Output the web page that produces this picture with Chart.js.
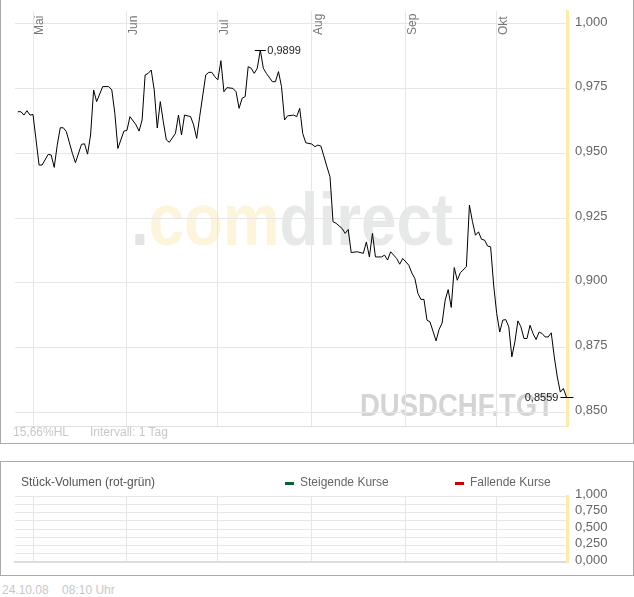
<!DOCTYPE html>
<html>
<head>
<meta charset="utf-8">
<script src="https://cdn.jsdelivr.net/npm/chart.js@4.4.0/dist/chart.umd.min.js"></script>
<style>
  body { margin: 0; background: #fff; font-family: Arial, "Liberation Sans", sans-serif; }
  .panel { position: absolute; left: 0; width: 632px; border: 1px solid #aaa; }
  canvas { position: absolute; left: 0; }
  .txt { position: absolute; font-size: 12px; white-space: nowrap; line-height: 14px; }
  .dash { position: absolute; width: 9px; height: 3px; }
</style>
</head>
<body>

<div class="panel" style="top:-1px; height:443px;"></div>
<canvas id="priceChart" width="634" height="444" style="top:0;"></canvas>
<div class="txt" style="left:13px; top:425px; color:#c8c8c8;">15,66%HL</div>
<div class="txt" style="left:90px; top:425px; color:#c8c8c8;">Intervall: 1 Tag</div>

<div class="panel" style="top:461px; height:113px;"></div>
<canvas id="volumeChart" width="634" height="112" style="top:462px;"></canvas>
<div class="txt" style="left:21px; top:475px; color:#555;">Stück-Volumen (rot-grün)</div>
<div class="dash" style="left:285px; top:482px; background:#006633;"></div>
<div class="txt" style="left:300px; top:475px; color:#666;">Steigende Kurse</div>
<div class="dash" style="left:455px; top:482px; background:#cc0000;"></div>
<div class="txt" style="left:470px; top:475px; color:#666;">Fallende Kurse</div>

<div class="txt" style="left:2px; top:583px; color:#c8c8c8;">24.10.08&nbsp;&nbsp;&nbsp;&nbsp;08:10 Uhr</div>

<script>
// days counted from 1 May 2008
const monthLabels = ['Mai', 'Jun', 'Jul', 'Aug', 'Sep', 'Okt'];
const monthStartDays = [0, 31, 61, 92, 123, 153];

const dayOffsets = [
  -5, -4, -3, -2, -1, 0, 2, 3, 5, 6, 7, 8, 9, 10, 11, 13, 14, 16, 17, 18, 19, 20, 21, 23, 25, 26, 27, 28, 30,
  31, 32, 34, 35, 36, 37, 38, 39, 40, 41, 42, 43, 44, 45, 47, 48, 49, 50, 52, 53, 54, 55, 57, 58, 59, 60,
  61, 62, 63, 64, 66, 67, 68, 69, 70, 71, 72, 73, 74, 75, 76, 77, 79, 80, 81, 82, 83, 84, 86, 87, 88, 89, 90,
  92, 93, 94, 95, 97, 98, 99, 100, 102, 103, 104, 105, 107, 109, 110, 111, 112, 113, 115, 116, 117, 118, 120, 121, 122,
  124, 125, 126, 127, 128, 129, 130, 131, 133, 134, 135, 136, 137, 138, 139, 140, 141, 143, 144, 145, 146, 147, 148, 149,
  150, 151, 152, 153, 154, 155, 156, 157, 158, 159, 160, 161, 162, 163, 164, 165, 166, 167, 168, 169, 170, 171, 172,
  173, 174, 175, 176
];

const closeRates = [
  0.9661, 0.9661, 0.9648, 0.9665, 0.9648, 0.9650, 0.9455, 0.9455, 0.9496, 0.9494, 0.9446, 0.9532, 0.9599, 0.9599, 0.9584, 0.9500, 0.9464, 0.9535, 0.9537, 0.9497, 0.9571, 0.9745, 0.9700, 0.9758, 0.9758, 0.9745, 0.9655, 0.9519, 0.9586,
  0.9589, 0.9642, 0.9610, 0.9586, 0.9629, 0.9803, 0.9809, 0.9822, 0.9745, 0.9598, 0.9700, 0.9622, 0.9552, 0.9543, 0.9577, 0.9648, 0.9571, 0.9648, 0.9642, 0.9610, 0.9558, 0.9642, 0.9803, 0.9813, 0.9813, 0.9796,
  0.9784, 0.9858, 0.9738, 0.9754, 0.9751, 0.9738, 0.9674, 0.9713, 0.9719, 0.9835, 0.9829, 0.9809, 0.9829, 0.9899, 0.9829, 0.9809, 0.9777, 0.9777, 0.9816, 0.9758, 0.9629, 0.9645, 0.9648, 0.9642, 0.9674, 0.9577, 0.9541,
  0.9536, 0.9526, 0.9532, 0.9528, 0.9448, 0.9410, 0.9236, 0.9230, 0.9210, 0.9191, 0.9206, 0.9117, 0.9120, 0.9114, 0.9158, 0.9100, 0.9191, 0.9100, 0.9100, 0.9107, 0.9088, 0.9120, 0.9094, 0.9072, 0.9094,
  0.9068, 0.9038, 0.9017, 0.8959, 0.8936, 0.8936, 0.8856, 0.8849, 0.8776, 0.8820, 0.8845, 0.8933, 0.8974, 0.8905, 0.9059, 0.9010, 0.9039, 0.9062, 0.9300, 0.9237, 0.9184, 0.9197, 0.9168, 0.9165, 0.9142,
  0.9139, 0.8991, 0.8882, 0.8810, 0.8856, 0.8858, 0.8830, 0.8714, 0.8772, 0.8853, 0.8830, 0.8785, 0.8785, 0.8836, 0.8804, 0.8781, 0.8810, 0.8804, 0.8791, 0.8791, 0.8807, 0.8714,
  0.8636, 0.8578, 0.8592, 0.8559
];

const priceTicks = [0.85, 0.875, 0.9, 0.925, 0.95, 0.975, 1.0];
const volumeGrid = [0, 0.125, 0.25, 0.375, 0.5, 0.625, 0.75, 0.875, 1.0];
const risingVolume = [];
const fallingVolume = [];

const gridColor = '#e6e6e6';
const fmt = (v, d) => v.toFixed(d).replace('.', ',');

function makeXScale(borderOpts) {
  return {
    type: 'linear',
    min: -5.94,
    max: 176.2,
    offset: false,
    afterBuildTicks: s => { s.ticks = monthStartDays.map(v => ({ value: v })); },
    afterFit: s => { s.height = 0; s.paddingLeft = 0; s.paddingRight = 0; },
    ticks: { display: false },
    grid: { color: gridColor, drawTicks: false, offset: false },
    border: borderOpts
  };
}

// right axis with a fixed width; its labels may hang over the plot edges
function fixRightAxis(s) {
  s.width = 67;
  s.paddingTop = 0;
  s.paddingBottom = 0;
}

function drawWatermark(ctx, parts, x, y, font, width) {
  ctx.save();
  ctx.font = font;
  const full = ctx.measureText(parts.map(p => p[0]).join('')).width;
  ctx.translate(x, y);
  ctx.scale(width / full, 1);
  ctx.textBaseline = 'alphabetic';
  let pos = 0;
  parts.forEach(([t, c]) => {
    ctx.fillStyle = c;
    ctx.fillText(t, pos, 0);
    pos += ctx.measureText(t).width;
  });
  ctx.restore();
}

// watermark, month names, high/low markers
const pricePlugin = {
  id: 'priceDecor',
  beforeDraw(chart) {
    const ctx = chart.ctx;
    drawWatermark(ctx, [['.', '#e3e3e3'], ['com', '#fdf4dc'], ['direct', '#e7e8e8']], 131, 245, 'bold 75px "Liberation Sans", Arial', 322);
    drawWatermark(ctx, [['DUSDCHF.TGT', '#d4d4d4']], 360, 416, 'bold 32px "Liberation Sans", Arial', 194);
  },
  afterDraw(chart) {
    const ctx = chart.ctx;
    const xs = chart.scales.x, ys = chart.scales.y;
    const area = chart.chartArea;

    ctx.save();
    ctx.font = '12px "Liberation Sans", Arial';
    ctx.fillStyle = '#777';
    monthStartDays.forEach((d, i) => {
      ctx.save();
      ctx.translate(xs.getPixelForValue(d) + 1, area.top + 24);
      ctx.rotate(-Math.PI / 2);
      ctx.textAlign = 'left';
      ctx.textBaseline = 'top';
      ctx.fillText(monthLabels[i], 0, 0);
      ctx.restore();
    });

    const hi = closeRates.indexOf(Math.max(...closeRates));
    const lo = closeRates.indexOf(Math.min(...closeRates));
    ctx.strokeStyle = '#000';
    ctx.lineWidth = 1;
    ctx.fillStyle = '#222';
    ctx.font = '11px "Liberation Sans", Arial';
    ctx.textBaseline = 'middle';

    let px = xs.getPixelForValue(dayOffsets[hi]), py = Math.round(ys.getPixelForValue(closeRates[hi])) + 0.5;
    ctx.beginPath(); ctx.moveTo(px - 5.5, py); ctx.lineTo(px + 5.5, py); ctx.stroke();
    ctx.textAlign = 'left';
    ctx.fillText(fmt(closeRates[hi], 4), px + 7, py);

    px = xs.getPixelForValue(dayOffsets[lo]); py = Math.round(ys.getPixelForValue(closeRates[lo])) + 0.5;
    ctx.beginPath(); ctx.moveTo(px - 6, py); ctx.lineTo(px + 7, py); ctx.stroke();
    ctx.textAlign = 'right';
    ctx.fillText(fmt(closeRates[lo], 4), px - 8, py);
    ctx.restore();
  }
};

new Chart(document.getElementById('priceChart'), {
  type: 'line',
  data: {
    datasets: [{
      label: 'DUSDCHF.TGT',
      data: dayOffsets.map((d, i) => ({ x: d, y: closeRates[i] })),
      borderColor: '#000',
      borderWidth: 1,
      pointRadius: 0,
      tension: 0,
      fill: false
    }]
  },
  options: {
    responsive: false,
    animation: false,
    devicePixelRatio: 1,
    layout: { padding: { left: 15, right: 0, top: 11, bottom: 18 } },
    plugins: { legend: { display: false }, tooltip: { enabled: false } },
    scales: {
      x: makeXScale({ color: '#e0e0e0' }),
      y: {
        position: 'right',
        min: 0.8447,
        max: 1.005,
        afterBuildTicks: s => { s.ticks = priceTicks.map(v => ({ value: v })); },
        afterFit: fixRightAxis,
        ticks: {
          callback: v => fmt(v, 3),
          color: '#666',
          font: { family: '"Liberation Sans", Arial', size: 13 },
          padding: 8,
          labelOffset: -2
        },
        grid: { color: gridColor, drawTicks: false },
        border: { color: '#fcebaa', width: 3 }
      }
    }
  },
  plugins: [pricePlugin]
});

new Chart(document.getElementById('volumeChart'), {
  type: 'bar',
  data: {
    datasets: [
      { label: 'Steigende Kurse', data: risingVolume, backgroundColor: '#006633' },
      { label: 'Fallende Kurse', data: fallingVolume, backgroundColor: '#cc0000' }
    ]
  },
  options: {
    responsive: false,
    animation: false,
    devicePixelRatio: 1,
    layout: { padding: { left: 15, right: 0, top: 34, bottom: 12 } },
    plugins: { legend: { display: false }, tooltip: { enabled: false } },
    scales: {
      x: makeXScale({ color: '#dcdcdc', width: 2 }),
      y: {
        position: 'right',
        min: 0,
        max: 1,
        afterBuildTicks: s => { s.ticks = volumeGrid.map(v => ({ value: v })); },
        afterFit: fixRightAxis,
        ticks: {
          callback: v => (v * 4) % 1 === 0 ? fmt(v, 3) : '',
          color: '#666',
          font: { family: '"Liberation Sans", Arial', size: 13 },
          padding: 8,
          labelOffset: -2,
          autoSkip: false
        },
        grid: { color: gridColor, drawTicks: false },
        border: { color: '#fcebaa', width: 3 }
      }
    }
  }
});
</script>
</body>
</html>
